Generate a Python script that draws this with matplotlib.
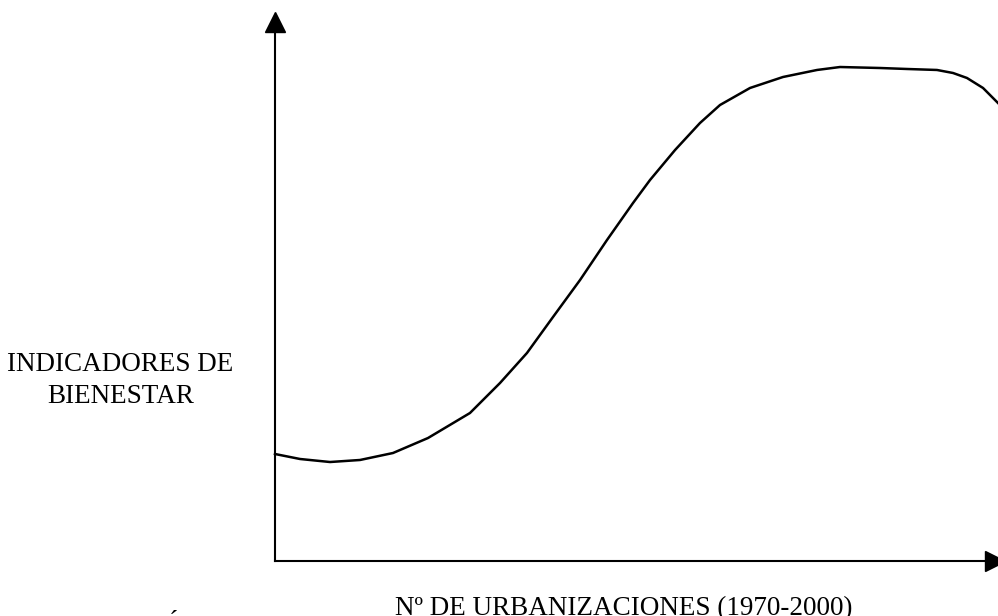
import matplotlib
matplotlib.use("Agg")
import matplotlib.pyplot as plt

# Curve: x = position along "Nº de urbanizaciones" axis (0-100), y = welfare index (0-100)
x_vals = [0, 3.46, 7.61, 11.76, 16.32, 21.16, 26.97, 31.12, 34.85, 38.45, 42.19, 45.92,
          49.52, 51.87, 55.33, 58.78, 61.55, 65.70, 70.26, 74.97, 78.15, 83.68, 87.41,
          91.56, 93.78, 95.71, 97.93, 100]
y_vals = [19.49, 18.58, 18.03, 18.40, 19.67, 22.40, 26.96, 32.42, 37.89, 44.44, 51.18, 58.47,
          65.21, 69.40, 74.86, 79.78, 83.06, 86.16, 88.16, 89.44, 89.98, 89.80, 89.62,
          89.44, 88.89, 87.98, 86.16, 83.42]

ylabel_lines = ["INDICADORES DE", "BIENESTAR"]
xlabel_text = "Nº DE URBANIZACIONES (1970-2000)"

W, H = 998, 616
fig = plt.figure(figsize=(W / 100, H / 100), dpi=100)
ox, oy, top = 275, 561, 12
ax = fig.add_axes([ox / W, (H - oy) / H, (W - ox) / W, (oy - top) / H])
ax.set_xlim(0, 100)
ax.set_ylim(0, 100)
ax.axis("off")

ax.plot(x_vals, y_vals, color="black", lw=1.8, clip_on=False, solid_joinstyle="round")

# axes with arrows
ax.plot([0, 0], [0, 97], color="black", lw=1.5, clip_on=False)
ax.plot([0, 99], [0, 0], color="black", lw=1.5, clip_on=False)
ax.plot([0], [98.1], marker="^", color="black", markersize=15, clip_on=False)
ax.plot([99.65], [0], marker=">", color="black", markersize=15, clip_on=False)

font = "Liberation Serif"
fs = 19.5
fig.text(120.5 / W, 1 - 371 / H, ylabel_lines[0], ha="center", va="baseline",
         fontsize=fs, family=font)
fig.text(121 / W, 1 - 403 / H, ylabel_lines[1], ha="center", va="baseline",
         fontsize=fs, family=font)
fig.text(623.5 / W, 1 - 615 / H, xlabel_text, ha="center", va="baseline",
         fontsize=fs, family=font)
# partially visible accented letter at the bottom edge
fig.text(173 / W, 1 - 634 / H, "Ó", ha="center", va="baseline",
         fontsize=fs, family=font)

fig.savefig("out.png", dpi=100)
